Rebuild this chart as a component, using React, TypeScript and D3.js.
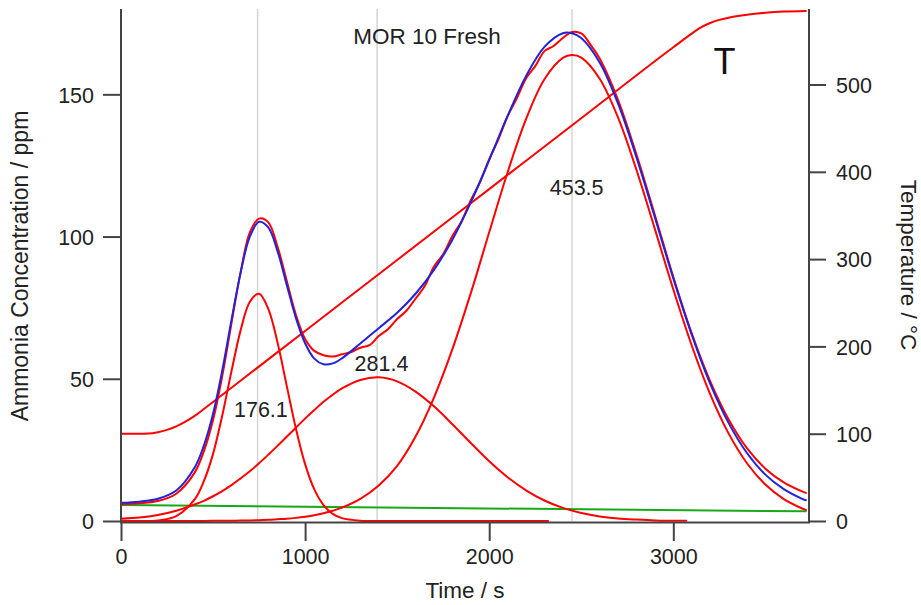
import React, { useEffect, useRef } from "react";
import * as d3 from "d3";

// ---------- data ----------
const TIME = [0, 100, 200, 300, 400, 450, 500, 550, 600, 650, 700, 750, 800, 850, 900, 950, 1000, 1050, 1100, 1150, 1200,
  1300, 1400, 1500, 1600, 1700, 1800, 1900, 2000, 2100, 2200, 2300, 2400, 2450, 2500, 2600, 2700, 2800, 2900, 3000, 3100,
  3200, 3300, 3400, 3500, 3600, 3700, 3720];

// cumulative fit (blue)
const FIT_TOTAL = [6.4, 6.8, 7.8, 10.7, 18.8, 26.5, 37.7, 52.9, 70.6, 87.4, 100.0, 105.2, 103.2, 94.9, 83.1, 71.4, 62.5, 57.1, 55.1, 55.4, 57.2,
  62.4, 67.8, 73.2, 79.9, 88.3, 98.9, 112.0, 126.9, 142.4, 156.4, 166.7, 171.5, 171.5, 169.8, 161.2, 146.7, 127.8, 106.7, 85.3, 65.5,
  48.3, 34.5, 23.9, 16.3, 11.2, 7.8, 7.3];

// peak 3 component (on TIME)
const PEAK3 = [0, 0, 0, 0, 0.02, 0.03, 0.05, 0.07, 0.1, 0.15, 0.2, 0.3, 0.4, 0.6, 0.8, 1.1, 1.5, 2.0, 2.7, 3.6, 4.7,
  7.8, 12.5, 19.4, 29.7, 43.4, 60.4, 80.1, 101.5, 122.6, 141.3, 155.3, 162.8, 163.8, 162.9, 155.5, 141.8, 123.4, 102.6, 81.4, 61.7,
  44.6, 30.8, 20.3, 12.8, 7.7, 4.4, 3.9];

// peak 1 component
const PEAK1_TIME = [0, 100, 200, 300, 400, 450, 500, 550, 600, 650, 700, 750, 800, 850, 900, 950, 1000, 1050, 1100, 1150, 1200, 1300, 1400, 1500, 2320];
const PEAK1 = [0, 0.02, 0.2, 1.7, 7.6, 14.0, 23.6, 37.1, 52.6, 67.1, 77.1, 79.9, 74.6, 62.8, 47.6, 32.5, 20.0, 11.1, 5.6, 2.5, 1.0, 0.12, 0.01, 0, 0];

// peak 2 component
const PEAK2_TIME = [0, 100, 200, 300, 400, 450, 500, 550, 600, 650, 700, 750, 800, 850, 900, 950, 1000, 1050, 1100, 1150, 1200,
  1300, 1400, 1500, 1600, 1700, 1800, 1900, 2000, 2100, 2200, 2300, 2400, 2500, 2600, 2700, 2800, 2900, 3000, 3070];
const PEAK2 = [0.8, 1.2, 2.1, 3.6, 5.8, 7.1, 8.7, 10.5, 12.6, 15.0, 17.5, 20.3, 23.3, 26.4, 29.6, 32.8, 36.0, 39.0, 41.9, 44.4, 46.6,
  49.6, 50.5, 49.1, 45.5, 40.3, 34.0, 27.4, 21.0, 15.4, 10.8, 7.2, 4.6, 2.8, 1.6, 0.9, 0.5, 0.2, 0.1, 0.05];

// linear baseline (green)
const BASE_TIME = [0, 3720];
const BASELINE = [5.6, 3.4];

// measured signal (red)
const MEAS_TIME = [0, 100, 200, 300, 400, 450, 500, 550, 600, 650, 700, 750, 800, 850, 900, 950, 1000, 1050, 1100, 1150, 1200,
  1250, 1300, 1350, 1400, 1450, 1500, 1550, 1600, 1650, 1700, 1750, 1800, 1850, 1900, 1950, 2000, 2050, 2100, 2150, 2200,
  2250, 2300, 2350, 2400, 2450, 2500, 2550, 2600, 2700, 2800, 2900, 3000, 3100, 3200, 3300, 3400, 3500, 3600, 3700, 3720];
const MEASURED = [5.9, 6.2, 7.0, 9.6, 17.0, 24.5, 35.5, 51.0, 69.5, 87.5, 101.5, 106.3, 105.0, 96.5, 84.5, 72.5, 64.0, 59.8, 58.3, 57.8, 58.6,
  59.4, 60.9, 61.8, 65.0, 67.4, 71.0, 73.9, 78.2, 82.6, 89.5, 93.8, 100.2, 105.4, 112.8, 119.1, 127.2, 134.2, 142.3, 148.6, 155.6,
  159.9, 165.2, 167.0, 169.8, 171.9, 171.4, 167.5, 162.6, 148.0, 128.8, 107.5, 85.8, 66.0, 49.2, 35.8, 25.6, 18.4, 13.6, 10.4, 9.9];

// temperature (right axis)
const TEMP_TIME = [0, 100, 150, 200, 250, 300, 350, 400, 450, 500, 1000, 1500, 2000, 2500, 3000, 3100, 3150, 3200, 3250, 3300, 3350, 3400, 3500, 3600, 3720];
const TEMPERATURE = [100, 100, 100.2, 101.7, 104.4, 108.4, 113.8, 120.4, 128.3, 136.4, 217.7, 299.0, 380.2, 461.4, 542.7, 558.3, 565.5, 570.5, 574, 576.5, 578.5, 580, 582.2, 583.6, 584.3];

// peak maxima
const PEAK_TIMES = [742, 1391, 2450];
const PEAK_LABELS = ["176.1", "281.4", "453.5"];

// ticks
const X_TICKS = [0, 1000, 2000, 3000];
const YL_TICKS = [0, 50, 100, 150];
const YR_TICKS = [0, 100, 200, 300, 400, 500];

const TITLE = "MOR 10 Fresh";
const X_TITLE = "Time / s";
const YL_TITLE = "Ammonia Concentration / ppm";
const YR_TITLE = "Temperature / °C";

// ---------- layout ----------
const W = 921, H = 605;
const L = 121, R = 809, T = 9, B = 521;
const FONT = "'Liberation Sans', Arial, sans-serif";
const AX = "#444";
const TXT = "#222";
// label anchors (data space) for the peak annotations
const LABEL_POS = [
  { t: 760, v: 36.6 },
  { t: 1415, v: 52.8 },
  { t: 2475, v: 114.6 },
];

export default function App() {
  const gx = useRef<SVGGElement>(null);
  const gl = useRef<SVGGElement>(null);
  const gr = useRef<SVGGElement>(null);

  const x = d3.scaleLinear().domain([0, 3737]).range([L, R]);
  const yL = d3.scaleLinear().domain([0, 180]).range([B, T]);
  const yR = d3.scaleLinear().domain([0, 586.5]).range([B, T]);

  const mk = (ts: number[], vs: number[], y: d3.ScaleLinear<number, number>, curve: d3.CurveFactory = d3.curveCatmullRom.alpha(0.5)) =>
    d3.line<number>().x((_, i) => x(ts[i])).y((v) => y(v)).curve(curve)(vs) || "";

  useEffect(() => {
    const style = (g: d3.Selection<SVGGElement, unknown, null, undefined>) => {
      g.select(".domain").remove();
      g.selectAll(".tick line").attr("stroke", AX).attr("stroke-width", 2);
      g.selectAll(".tick text").attr("fill", TXT).style("font-family", FONT).style("font-size", "21.5px");
    };
    if (gx.current) {
      const g = d3.select(gx.current);
      g.call(d3.axisBottom(x).tickValues(X_TICKS).tickSize(18).tickPadding(8).tickSizeOuter(0).tickFormat(d3.format("d")) as any);
      style(g as any);
    }
    if (gl.current) {
      const g = d3.select(gl.current);
      g.call(d3.axisLeft(yL).tickValues(YL_TICKS).tickSize(18).tickPadding(9).tickSizeOuter(0).tickFormat(d3.format("d")) as any);
      style(g as any);
      g.selectAll(".tick text").attr("dy", "0.36em");
    }
    if (gr.current) {
      const g = d3.select(gr.current);
      g.call(d3.axisRight(yR).tickValues(YR_TICKS).tickSize(17).tickPadding(10).tickSizeOuter(0).tickFormat(d3.format("d")) as any);
      style(g as any);
      g.selectAll(".tick text").attr("dy", "0.36em");
    }
  }, []);

  return (
    <svg width={W} height={H} viewBox={`0 0 ${W} ${H}`}
      style={{ position: "absolute", left: 0, top: 0, display: "block", background: "#fff" }}>
      <rect x={0} y={0} width={W} height={H} fill="#fff" />
      {/* peak grid lines */}
      {PEAK_TIMES.map((t, i) => (
        <line key={i} x1={x(t)} x2={x(t)} y1={T} y2={B} stroke="#d6d6d6" strokeWidth={1.5} />
      ))}

      {/* curves */}
      <g fill="none" strokeWidth={2} strokeLinejoin="round" strokeLinecap="round">
        <path d={mk(BASE_TIME, BASELINE, yL, d3.curveLinear)} stroke="#18a818" />
        <path d={mk(PEAK1_TIME, PEAK1, yL)} stroke="#ff0000" />
        <path d={mk(PEAK2_TIME, PEAK2, yL)} stroke="#ff0000" />
        <path d={mk(TIME, PEAK3, yL)} stroke="#ff0000" />
        <path d={mk(TEMP_TIME, TEMPERATURE, yR, d3.curveMonotoneX)} stroke="#ff0000" />
        <path d={mk(MEAS_TIME, MEASURED, yL)} stroke="#ff0000" />
        <path d={mk(TIME, FIT_TOTAL, yL)} stroke="#2222d8" />
      </g>

      {/* axes */}
      <g stroke={AX} strokeWidth={2}>
        <line x1={L} x2={L} y1={T} y2={B + 2} />
        <line x1={R} x2={R} y1={T} y2={B + 2} />
        <line x1={L - 1} x2={R + 1} y1={B + 1.5} y2={B + 1.5} />
      </g>
      <g ref={gx} transform={`translate(0,${B + 2})`} />
      <g ref={gl} transform={`translate(${L},0)`} />
      <g ref={gr} transform={`translate(${R},0)`} />

      {/* peak labels */}
      {PEAK_LABELS.map((s, i) => (
        <text key={i} x={x(LABEL_POS[i].t)} y={yL(LABEL_POS[i].v)} textAnchor="middle"
          fontFamily={FONT} fontSize={21.5} fill={TXT}>{s}</text>
      ))}

      {/* titles */}
      <text x={427} y={43.5} textAnchor="middle" fontFamily={FONT} fontSize={22.5} fill={TXT}>{TITLE}</text>
      <text x={724.5} y={74} textAnchor="middle" fontFamily={FONT} fontSize={36} fill="#111">T</text>
      <text x={(L + R) / 2} y={598} textAnchor="middle" fontFamily={FONT} fontSize={22.5} fill={TXT}>{X_TITLE}</text>
      <text transform={`translate(20,${(T + B) / 2 + 1}) rotate(-90)`} textAnchor="middle" dominantBaseline="central"
        fontFamily={FONT} fontSize={23} fill={TXT}>{YL_TITLE}</text>
      <text transform={`translate(908,${(T + B) / 2}) rotate(90)`} textAnchor="middle" dominantBaseline="central"
        fontFamily={FONT} fontSize={22.5} fill={TXT}>{YR_TITLE}</text>
    </svg>
  );
}
